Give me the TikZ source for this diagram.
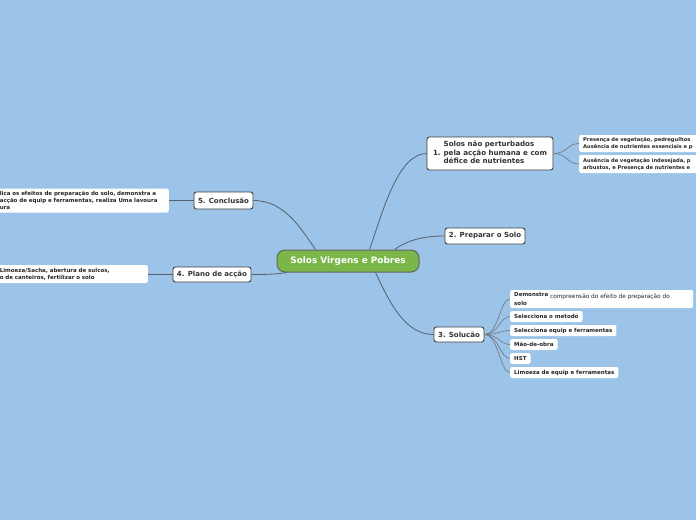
\documentclass[tikz,border=0pt]{standalone}
\usepackage{fontspec}
\setmainfont{DejaVu Sans}
\usetikzlibrary{calc}
\definecolor{bg}{HTML}{9CC3E8}
\definecolor{cgreen}{HTML}{7AB648}
\definecolor{edgec}{HTML}{56616B}
\definecolor{bord}{HTML}{3F3F3F}
\tikzset{
 topic/.style={draw=bord, line width=0.9pt, fill=white, rounded corners=2.5pt,
   font=\bfseries\fontsize{7}{8}\selectfont, text=black!80, inner sep=0pt},
 leaf/.style={fill=white, rounded corners=2pt, font=\bfseries\fontsize{5.5}{7}\selectfont,
   inner xsep=4pt, inner ysep=0pt, align=left, text=black!85},
 conn/.style={draw=edgec, line width=0.8pt},
 sub/.style={draw=edgec!85, line width=0.6pt}
}
\begin{document}
\begin{tikzpicture}[x=1pt,y=-1pt]
\useasboundingbox (0,0) rectangle (696,520);
\fill[bg] (0,0) rectangle (696,520);
\clip (0,0) rectangle (696,520);

% central
\node[draw=bord!80, line width=1pt, fill=cgreen, rounded corners=8pt, minimum width=142pt,
  minimum height=22pt, inner sep=0pt, text=white, font=\bfseries\fontsize{8.9}{10}\selectfont]
  (c) at (348,261) {Solos Virgens e Pobres};

% main topics
\node[topic, minimum width=126pt, minimum height=33pt, font=\bfseries\fontsize{7.1}{8.6}\selectfont]
  (n1) at (490,153.5) {\begin{tabular}{@{}l@{\hspace{3pt}}l@{}}&Solos não perturbados\\1.&pela acção humana e com\\&défice de nutrientes\end{tabular}};
\node[topic, minimum width=80pt, minimum height=16pt] (n2) at (485,236) {2. Preparar o Solo};
\node[topic, minimum width=50pt, minimum height=15pt] (n3) at (459,334.5) {3. Solucão};
\node[topic, minimum width=78pt, minimum height=15pt] (n4) at (212,274.5) {4. Plano de acção};
\node[topic, minimum width=59pt, minimum height=17pt] (n5) at (223.5,200.5) {5. Conclusão};

% leaves of 1
\node[leaf, anchor=west, minimum height=17pt, text width=150pt, font=\bfseries\fontsize{5.15}{7}\selectfont] (a1) at (579,143.5)
  {Presença de vegetação, pedregulhos\\Ausência de nutrientes essenciais e p};
\node[leaf, anchor=west, minimum height=18pt, text width=150pt, font=\bfseries\fontsize{5.15}{7}\selectfont] (a2) at (579,164)
  {Ausência de vegetação indesejada, p\\arbustos, e Presença de nutrientes e};

% leaves of 3
\node[leaf, anchor=west, minimum height=18pt, text width=175pt] (b1) at (510,299)
  {\raisebox{1.5pt}{Demonstra} {\mdseries\fontsize{5.8}{7}\selectfont compreensão do efeito de preparação do}\\solo};
\node[leaf, anchor=west, minimum height=11pt] (b2) at (510,316.5) {Selecciona o metodo};
\node[leaf, anchor=west, minimum height=11pt] (b3) at (510,330.5) {Selecciona equip e ferramentas};
\node[leaf, anchor=west, minimum height=11pt] (b4) at (510,344.5) {Mão-de-obra};
\node[leaf, anchor=west, minimum height=11pt] (b5) at (510,358.5) {HST};
\node[leaf, anchor=west, minimum height=11pt] (b6) at (510,372.5) {Limoeza de equip e ferramentas};

% left leaves
\node[leaf, anchor=east, minimum height=24pt, text width=165pt] (d5) at (169,200.5)
  {lica os efeitos de preparação do solo, demonstra a\\acção de equip e ferramentas, realiza Uma lavoura\\ura};
\node[leaf, anchor=east, minimum height=18pt, text width=144pt] (d4) at (148,274)
  {Limoeza/Sacha, abertura de sulcos,\\o de canteiros, fertilizar o solo};

% main connectors
\draw[conn] ($(c.north west)+(93,0)$) .. controls +(14,-40) and (398,154) .. (n1.west);
\draw[conn] ($(c.north west)+(118,0)$) .. controls +(14,-10) and (425,236) .. (n2.west);
\draw[conn] ($(c.south west)+(99,0)$) .. controls +(14,30) and (405,334.5) .. (n3.west);
\draw[conn] ($(c.north west)+(39,0)$) .. controls +(-14,-20) and (285,200.5) .. (n5.east);
\draw[conn] ($(c.south west)+(10,0)$) .. controls +(-10,2) and (262,274.5) .. (n4.east);
\draw[conn] (n5.west) -- (d5.east |- n5.west);
\draw[conn] (n4.west) -- (d4.east |- n4.west);

% sub connectors
\foreach \l in {a1,a2}
  \draw[sub] (n1.east) .. controls +(14,0) and +(-12,0) .. (\l.west);
\foreach \l in {b1,b2,b3,b4,b5,b6}
  \draw[sub] (n3.east) .. controls +(14,0) and +(-10,0) .. (\l.west);
\end{tikzpicture}
\end{document}
